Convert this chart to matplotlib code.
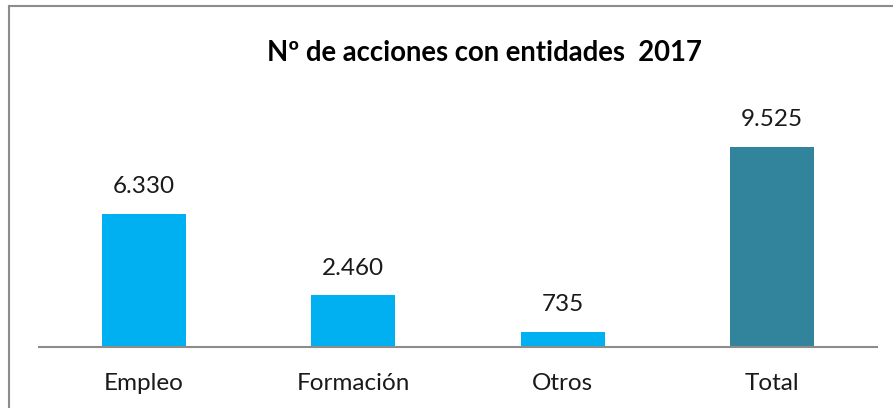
import matplotlib
matplotlib.use("Agg")
import matplotlib.pyplot as plt

categories = ["Empleo", "Formación", "Otros", "Total"]
values = [6330, 2460, 735, 9525]
value_labels = ["6.330", "2.460", "735", "9.525"]
colors = ["#00B0F0", "#00B0F0", "#00B0F0", "#31849B"]
title = "Nº de acciones con entidades  2017"

plt.rcParams['font.family'] = ['Lato', 'DejaVu Sans']

W, H = 893, 408
fig = plt.figure(figsize=(W / 100, H / 100), dpi=100)
fig.patch.set_facecolor("white")

# outer frame (top and left edges visible)
fig.add_artist(plt.Line2D([9 / W, 9 / W], [0, 1 - 6 / H], color="#8C8C8C", lw=1.5, transform=fig.transFigure))
fig.add_artist(plt.Line2D([9 / W, 1], [1 - 6 / H, 1 - 6 / H], color="#8C8C8C", lw=1.5, transform=fig.transFigure))

ymax = 10000
base_y = 347
px_per_unit = 200 / 9525
top_y = base_y - ymax * px_per_unit
ax = fig.add_axes([39 / W, (H - base_y) / H, (877 - 39) / W, (base_y - top_y) / H])
x = list(range(len(categories)))
ax.bar(x, values, width=0.4, color=colors)
ax.set_xlim(-0.5, len(categories) - 0.5)
ax.set_ylim(0, ymax)
for xi, v, lab in zip(x, values, value_labels):
    ax.annotate(lab, (xi, v), xytext=(0, 12), textcoords="offset points",
                ha="center", va="bottom", fontsize=17.5, color="#1a1a1a")
ax.set_xticks(x)
ax.set_xticklabels(categories, fontsize=17.5, color="#1a1a1a")
ax.tick_params(axis="x", length=0, pad=18.5)
ax.set_yticks([])
for s in ["top", "right", "left"]:
    ax.spines[s].set_visible(False)
ax.spines["bottom"].set_color("#8C8C8C")
ax.spines["bottom"].set_linewidth(1.5)
ax.patch.set_alpha(0)

fig.text(484 / W, 1 - 53 / H, title, ha="center", va="center",
         fontsize=19.8, fontweight="bold", color="black")

fig.savefig("out.png", dpi=100)
